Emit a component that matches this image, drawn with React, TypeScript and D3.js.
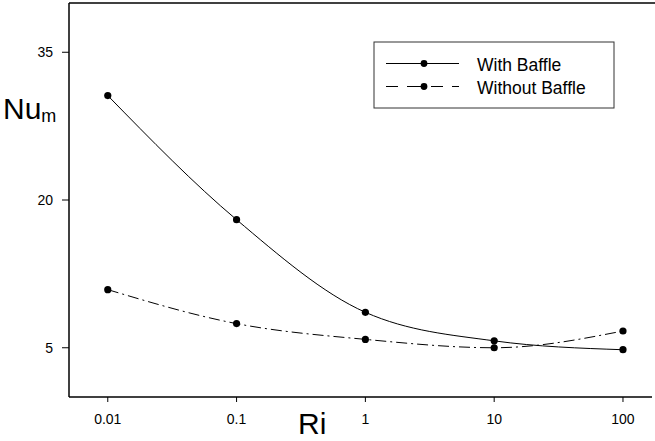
import * as d3 from 'd3';

const riValues = [0.01, 0.1, 1, 10, 100];
const withBaffle = [30.6, 18.0, 8.6, 5.7, 4.8];
const withoutBaffle = [10.9, 7.45, 5.85, 5.0, 6.7];
const yTicks = [5, 20, 35];
const xTickLabels = ['0.01', '0.1', '1', '10', '100'];
const seriesNames = ['With Baffle', 'Without Baffle'];

const WIDTH = 655;
const HEIGHT = 441;
const MARGIN = { top: 3, right: 3, bottom: 44, left: 69 };
const FONT = '"Liberation Sans", Arial, sans-serif';
const DASH = '11,4,2,4';

const App = () => {
  const plotRight = 652;
  const xScale = d3
    .scaleLog()
    .domain([0.005, 168])
    .range([MARGIN.left, plotRight]);
  const yScale = d3
    .scaleLinear()
    .domain([0, 40])
    .range([HEIGHT - MARGIN.bottom, MARGIN.top]);

  const line = d3
    .line<[number, number]>()
    .x(d => xScale(d[0]))
    .y(d => yScale(d[1]))
    .curve(d3.curveMonotoneX);

  const series = [withBaffle, withoutBaffle].map(vals =>
    riValues.map((r, i) => [r, vals[i]] as [number, number])
  );

  const bottom = yScale(0);
  const top = yScale(40);

  // legend
  const lg = { x: 374, y: 42, w: 240, h: 66 };
  const rowY = [63.5, 86.5];

  return (
    <svg
      width={WIDTH}
      height={HEIGHT}
      style={{ position: 'absolute', left: 0, top: 0, background: '#fff' }}
    >
      {/* frame */}
      <line x1={MARGIN.left} x2={WIDTH} y1={top} y2={top} stroke="#000" strokeWidth={1.5} />
      <line x1={MARGIN.left} x2={MARGIN.left} y1={top} y2={bottom} stroke="#000" strokeWidth={1.5} />
      <line x1={MARGIN.left} x2={plotRight} y1={bottom} y2={bottom} stroke="#000" strokeWidth={1.5} />

      {/* y axis */}
      {yTicks.map(t => (
        <g key={`y-${t}`}>
          <line x1={MARGIN.left - 7} x2={MARGIN.left} y1={yScale(t)} y2={yScale(t)} stroke="#000" strokeWidth={1} />
          <text
            x={53}
            y={yScale(t) + 5}
            textAnchor="end"
            fontFamily={FONT}
            fontSize={14}
          >
            {t}
          </text>
        </g>
      ))}

      {/* x axis */}
      {riValues.map((r, i) => (
        <g key={`x-${r}`}>
          <line x1={xScale(r)} x2={xScale(r)} y1={bottom} y2={bottom + 5} stroke="#000" strokeWidth={1} />
          <text
            x={xScale(r)}
            y={424}
            textAnchor="middle"
            fontFamily={FONT}
            fontSize={14}
          >
            {xTickLabels[i]}
          </text>
        </g>
      ))}

      {/* axis titles */}
      <text x={3} y={118.5} fontFamily={FONT} fontSize={30}>
        Nu
        <tspan fontSize={18} dy={3}>m</tspan>
      </text>
      <text x={298} y={434} fontFamily={FONT} fontSize={30}>
        Ri
      </text>

      {/* series */}
      {series.map((pts, si) => (
        <g key={`s-${si}`}>
          <path
            d={line(pts) || ''}
            fill="none"
            stroke="#000"
            strokeWidth={1}
            strokeDasharray={si === 1 ? DASH : undefined}
          />
          {pts.map(p => (
            <circle key={`c-${si}-${p[0]}`} cx={xScale(p[0])} cy={yScale(p[1])} r={3.6} fill="#000" />
          ))}
        </g>
      ))}

      {/* legend */}
      <rect x={lg.x} y={lg.y} width={lg.w} height={lg.h} fill="#fff" stroke="#333" strokeWidth={1} />
      {seriesNames.map((name, i) => (
        <g key={name}>
          <line
            x1={386}
            x2={459}
            y1={rowY[i]}
            y2={rowY[i]}
            stroke="#000"
            strokeWidth={1}
            strokeDasharray={i === 1 ? '12,9,14,4,2,4' : undefined}
          />
          <circle cx={424} cy={rowY[i]} r={3.4} fill="#000" />
          <text x={477} y={rowY[i] + 7} fontFamily={FONT} fontSize={17.5}>
            {name}
          </text>
        </g>
      ))}
    </svg>
  );
};

export default App;
